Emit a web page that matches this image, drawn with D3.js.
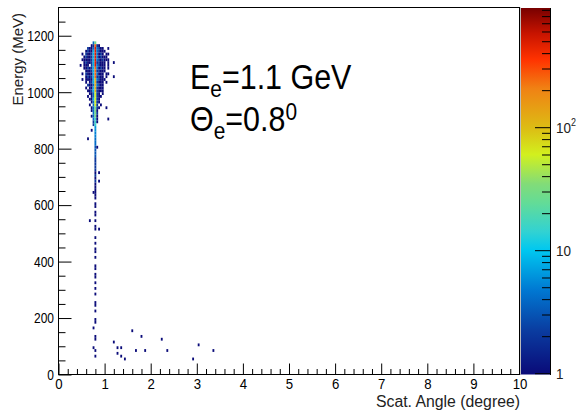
<!DOCTYPE html>
<html>
<head>
<meta charset="utf-8">
<script src="https://cdn.jsdelivr.net/npm/d3@7"></script>
<style>
  html, body { margin: 0; padding: 0; background: #fff; }
  svg { display: block; font-family: "Liberation Sans", Arial, Helvetica, sans-serif; }
</style>
</head>
<body>
<svg id="chart" width="578" height="413"></svg>
<script>
// ------------------
// Data
// ------------------
const angleBin = 0.04          // degree per bin
const energyBin = 10           // MeV per bin
const blobAngleStart = 0.38    // left edge of column 0 of the dense grid

// lower edge of each grid row (MeV)
const blobEnergies = [1170, 1160, 1150, 1140, 1130, 1120, 1110, 1100, 1090, 1080,
  1070, 1060, 1050, 1040, 1030, 1020, 1010, 1000, 990, 980,
  970, 960, 950, 940, 930, 920, 910, 900, 890, 880]

// 21 columns each: left 10 | core | right 10, one char = one count level
const blobRows = [
  '.........3|6|..........',
  '........12|9|21........',
  '......2113|R|3211......',
  '.....12114|R|32111.....',
  '...1.21124|R|3121.11...',
  '....121124|R|312111....',
  '...1111124|R|3212111...',
  '....121124|R|22111.1..1',
  '..1.111.24|R|32111.1...',
  '....112124|9|31211.1...',
  '.....11124|9|22111.....',
  '...1.21114|9|3111.11...',
  '.....12124|9|2211.1....',
  '.....11114|8|32111.....',
  '.....1.124|8|2111.1....',
  '......2113|8|3211......',
  '.....1.114|8|2111......',
  '......1124|8|2111......',
  '.......113|7|21.1......',
  '......1.13|7|211.......',
  '.......114|7|21........',
  '........13|7|21........',
  '.......1.3|7|2.1.......',
  '........13|6|21........',
  '........13|6|1.........',
  '.........3|6|2.........',
  '........13|6|1.........',
  '.........3|5|1.........',
  '.........2|5|1.........',
  '.........2|5|..........'
]
const levelChars = '.123456789RX'
const levelCounts = [0, 1, 2, 4, 8, 15, 30, 60, 120, 250, 500, 900]

// core column (0.78-0.82 deg) below the dense part: [energy, count]
const tailCells = [
  [870, 6], [860, 6], [850, 5], [840, 5], [830, 4], [820, 4], [810, 4], [800, 3],
  [790, 3], [780, 3], [770, 3], [760, 2], [750, 2], [740, 2], [730, 2], [720, 2],
  [710, 1], [700, 2], [690, 1], [680, 2], [670, 1], [660, 1], [650, 1], [640, 1],
  [630, 1], [620, 1], [600, 1], [590, 1], [570, 1], [560, 1], [540, 1], [520, 1],
  [510, 1], [480, 1], [460, 1], [440, 1], [430, 1], [410, 1], [380, 1], [370, 1],
  [350, 1], [340, 1], [320, 1], [300, 1], [280, 1], [250, 1], [240, 1], [220, 1],
  [190, 1], [180, 1], [130, 1], [120, 1], [80, 1], [60, 1]
]

// single entries away from the core: [angle, energy]
const singleHits = [
  [1.09, 1157], [1.19, 1056], [0.51, 1042], [0.62, 831], [1.02, 945], [1.06, 909],
  [0.73, 860], [0.84, 800], [0.74, 640], [0.68, 540], [0.88, 716], [0.88, 688],
  [0.87, 519], [0.75, 167], [0.74, 97],
  [1.20, 118], [1.26, 78], [1.27, 92], [1.36, 92], [1.36, 64], [1.43, 53],
  [1.60, 159], [1.67, 89], [1.80, 130], [1.87, 84], [2.26, 127], [2.34, 89],
  [2.91, 56], [3.03, 103], [3.35, 84]
]

const xTicks = d3.range(0, 11, 1)
const yTicks = [0, 200, 400, 600, 800, 1000, 1200]
const zRange = [0.976, 940]

// palette stops, bottom (0) to top (1)
const paletteStops = [0, 0.12, 0.23, 0.34, 0.39, 0.47, 0.52, 0.60, 0.67, 0.78, 0.86, 0.93, 1]
const paletteColors = ['#0a0a78', '#0a3ca0', '#0078d2', '#00c8f0', '#32d2d2', '#64dc96',
  '#82dc78', '#d2f01e', '#dcbe14', '#f08214', '#ff3200', '#c81400', '#780000']

// ------------------
// Build bins
// ------------------
const cells = []
blobRows.forEach((row, i) => {
  row.replace(/\|/g, '').split('').forEach((ch, j) => {
    const count = levelCounts[levelChars.indexOf(ch)]
    if (count > 0) cells.push({ a: blobAngleStart + j * angleBin, e: blobEnergies[i], count })
  })
})
tailCells.forEach(([e, count]) => cells.push({ a: blobAngleStart + 10 * angleBin, e, count }))
singleHits.forEach(([a, e]) => {
  const a0 = blobAngleStart + Math.floor((a - blobAngleStart) / angleBin) * angleBin
  cells.push({ a: a0, e: Math.floor(e / energyBin) * energyBin, count: 1 })
})

// ------------------
// Scales
// ------------------
const svg = d3.select('#chart')
const frame = { left: 58.5, right: 519.5, top: 7.5, bottom: 374.5 }

const x = d3.scaleLinear().domain([0, 10]).range([frame.left, frame.right])
const y = d3.scaleLinear().domain([0, 1300]).range([frame.bottom, frame.top])
const zFrac = d3.scaleLog().domain(zRange).range([0, 1]).clamp(true)
const palette = d3.scaleLinear().domain(paletteStops).range(paletteColors).interpolate(d3.interpolateRgb)
const zPix = d3.scaleLog().domain(zRange).range([frame.bottom, frame.top])

// ------------------
// Cells
// ------------------
svg.append('g')
  .selectAll('rect')
  .data(cells)
  .enter()
  .append('rect')
  .attr('x', d => x(d.a))
  .attr('y', d => y(d.e + energyBin))
  .attr('width', d => x(d.a + angleBin) - x(d.a))
  .attr('height', d => y(d.e) - y(d.e + energyBin))
  .attr('fill', d => palette(zFrac(d.count)))

// ------------------
// Axes
// ------------------
const tickStyle = g => {
  g.select('.domain').remove()
  g.selectAll('line').attr('stroke', '#000')
  g.selectAll('text').attr('fill', '#000').attr('font-size', 15)
}

svg.append('g')
  .attr('transform', `translate(0,${frame.bottom})`)
  .call(d3.axisBottom(x).tickValues(d3.range(0, 10.001, 0.2).filter(v => Math.abs(v - Math.round(v)) > 1e-6))
    .tickSizeInner(-5.5).tickSizeOuter(0).tickFormat(''))
  .call(tickStyle)

svg.append('g')
  .attr('transform', `translate(0,${frame.bottom})`)
  .call(d3.axisBottom(x).tickValues(xTicks).tickSizeInner(-11).tickSizeOuter(0).tickPadding(3.5).tickFormat(d3.format('d')))
  .call(tickStyle)
  .call(g => g.selectAll('text').attr('transform', 'scale(0.88,1)'))

svg.append('g')
  .attr('transform', `translate(${frame.left},0)`)
  .call(d3.axisLeft(y).tickValues(d3.range(50, 1300, 50).filter(v => v % 200 !== 0))
    .tickSizeInner(-7).tickSizeOuter(0).tickFormat(''))
  .call(tickStyle)

svg.append('g')
  .attr('transform', `translate(${frame.left},0)`)
  .call(d3.axisLeft(y).tickValues(yTicks).tickSizeInner(-13).tickSizeOuter(0).tickFormat(d3.format('d')))
  .call(tickStyle)
  .call(g => g.selectAll('text').attr('x', -4.5 / 0.8).attr('transform', 'scale(0.8,1)'))

// frame
svg.append('rect')
  .attr('x', frame.left).attr('y', frame.top)
  .attr('width', frame.right - frame.left).attr('height', frame.bottom - frame.top)
  .attr('fill', 'none').attr('stroke', '#000').attr('stroke-width', 1)

// axis titles
svg.append('text')
  .attr('x', 520).attr('y', 407)
  .attr('text-anchor', 'end')
  .attr('font-size', 16)
  .attr('textLength', 144).attr('lengthAdjust', 'spacingAndGlyphs')
  .attr('fill', '#222')
  .text('Scat. Angle (degree)')

svg.append('text')
  .attr('transform', 'translate(23,13) rotate(-90)')
  .attr('text-anchor', 'end')
  .attr('font-size', 15)
  .attr('fill', '#222')
  .text('Energy (MeV)')

// ------------------
// Palette
// ------------------
const grad = svg.append('defs').append('linearGradient')
  .attr('id', 'pal').attr('x1', 0).attr('y1', 1).attr('x2', 0).attr('y2', 0)
grad.selectAll('stop')
  .data(paletteStops)
  .enter()
  .append('stop')
  .attr('offset', d => d)
  .attr('stop-color', (d, i) => paletteColors[i])

svg.append('rect')
  .attr('x', 520.5).attr('y', frame.top + 0.5)
  .attr('width', 29.5).attr('height', frame.bottom - frame.top - 0.5)
  .attr('fill', 'url(#pal)')

svg.append('line')
  .attr('x1', 520.5).attr('x2', 520.5).attr('y1', frame.top).attr('y2', frame.bottom)
  .attr('stroke', '#bbb')

const zMinor = [2, 3, 4, 5, 6, 7, 8, 9].flatMap(k => [k, k * 10, k * 100]).filter(v => v < zRange[1])

svg.append('g')
  .attr('transform', 'translate(550,0)')
  .call(d3.axisRight(zPix).tickValues(zMinor).tickSizeInner(-8).tickSizeOuter(0).tickFormat(''))
  .call(tickStyle)

svg.append('g')
  .attr('transform', 'translate(550,0)')
  .call(d3.axisRight(zPix).tickValues([1, 10, 100]).tickSizeInner(-15).tickSizeOuter(0).tickFormat(''))
  .call(g => g.selectAll('line').attr('stroke', '#000'))
  .call(g => g.select('.domain').attr('stroke', '#000'))

const zLabel = svg.append('g').attr('fill', '#222').attr('font-size', 15)
zLabel.append('text').attr('transform', `translate(556,${zPix(1) + 5.5}) scale(0.9,1)`).text('1')
zLabel.append('text').attr('transform', `translate(556,${zPix(10) + 5.5}) scale(0.9,1)`).text('10')
const z2 = zLabel.append('text').attr('transform', `translate(556,${zPix(100) + 5.5}) scale(0.9,1)`)
z2.append('tspan').text('10')
z2.append('tspan').attr('font-size', 10).attr('dy', -7).text('2')

// ------------------
// Annotation
// ------------------
const note = svg.append('g').attr('fill', '#000')
const l1 = note.append('text').attr('transform', 'translate(190,89) scale(0.87,1)').attr('font-size', 35)
l1.append('tspan').text('E')
l1.append('tspan').attr('font-size', 24).attr('dy', 8).text('e')
l1.append('tspan').attr('dy', -8).text('=1.1 GeV')

const l2 = note.append('text').attr('transform', 'translate(190,131) scale(0.87,1)').attr('font-size', 35)
l2.append('tspan').text('\u0398')
l2.append('tspan').attr('font-size', 24).attr('dy', 8).text('e')
l2.append('tspan').attr('dy', -8).text('=0.8')
l2.append('tspan').attr('font-size', 24).attr('dy', -11).text('0')
</script>
</body>
</html>
